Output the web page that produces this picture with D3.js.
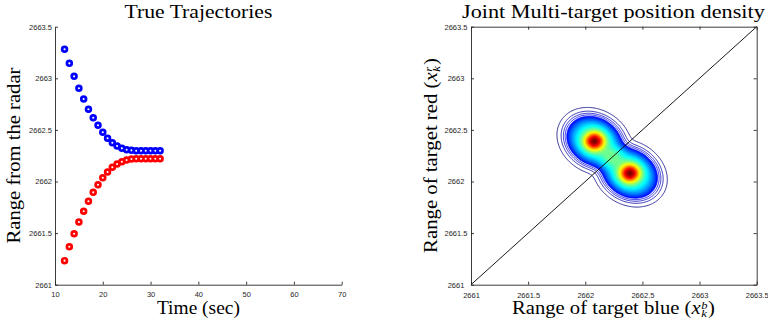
<!DOCTYPE html>
<html><head><meta charset="utf-8">
<script src="https://cdn.jsdelivr.net/npm/d3@7"></script>
<style>
html,body{margin:0;padding:0;background:#fff;}
svg{display:block;}
</style></head>
<body>
<svg id="chart" width="768" height="324"></svg>
<script>
// ---------------- DATA ----------------
const times = [12,13,14,15,16,17,18,19,20,21,22,23,24,25,26,27,28,29,30,31,32];
const blueRange = [2663.281,2663.145,2663.019,2662.903,2662.800,2662.700,2662.618,2662.545,2662.477,2662.419,2662.376,2662.344,2662.322,2662.308,2662.302,2662.298,2662.298,2662.298,2662.298,2662.298,2662.298];
const redRange  = [2661.233,2661.368,2661.494,2661.608,2661.711,2661.808,2661.895,2661.969,2662.037,2662.092,2662.138,2662.170,2662.192,2662.208,2662.218,2662.221,2662.221,2662.221,2662.221,2662.221,2662.221];
const timeTicks = [10,20,30,40,50,60,70];
const rangeTicks = [2661,2661.5,2662,2662.5,2663,2663.5];
// joint density: two lobes (blue range, red range)
const lobeBlue = [2662.08, 2662.39];
const lobeRed  = [2662.39, 2662.08];
const plateauWeight = [0.42, 0.42];
const plateauAlong  = [0.26, 0.26];
const plateauPerp   = [0.215, 0.215];
const plateauPower  = [2.0, 2.0];
const peakWeight = [0.58, 0.58];
const peakSigma  = [0.06, 0.06];
const diagonal = [2661, 2663.5];

// ---------------- LAYOUT ----------------
const svg = d3.select("#chart");
const axisColor = "#262626";
const L = {x0:55, x1:341.7, y0:284.7, y1:26.7};
const R = {x0:471, x1:756.7, y0:284.7, y1:26.7};

const xT = d3.scaleLinear().domain([10,70]).range([L.x0,L.x1]);
const yT = d3.scaleLinear().domain([2661,2663.5]).range([L.y0,L.y1]);
const xB = d3.scaleLinear().domain([2661,2663.5]).range([R.x0,R.x1]);
const yB = d3.scaleLinear().domain([2661,2663.5]).range([R.y0,R.y1]);

const fmt = d => String(d);

function styleAxis(g){
  g.selectAll("path,line").attr("stroke",axisColor).attr("stroke-width",0.9);
  g.selectAll("text").attr("fill",axisColor).attr("font-family","'Liberation Sans', Arial, sans-serif").attr("font-size","7.5px");
}

// ---- left axes (box off) ----
svg.append("g").attr("transform",`translate(0,${L.y0})`)
  .call(d3.axisBottom(xT).tickValues(timeTicks).tickFormat(fmt).tickSize(-3).tickSizeOuter(0).tickPadding(7))
  .call(styleAxis);
svg.append("g").attr("transform",`translate(${L.x0},0)`)
  .call(d3.axisLeft(yT).tickValues(rangeTicks).tickFormat(fmt).tickSize(-3).tickSizeOuter(0).tickPadding(3))
  .call(styleAxis);

// ---- markers ----
function markers(vals, color){
  svg.append("g").selectAll("circle").data(times.map((t,i)=>[t,vals[i]])).join("circle")
    .attr("cx",d=>xT(d[0])).attr("cy",d=>yT(d[1])).attr("r",2.4)
    .attr("fill","#fff").attr("stroke",color).attr("stroke-width",2.7);
}
markers(blueRange,"#0000ff");
markers(redRange,"#ff0000");

// ---- right plot: contours ----
const gx0 = 2661.5, gy0 = 2661.5, step = 0.008, n = 190, m = 190;
const values = new Array(n*m);
for (let j=0;j<m;j++){
  for (let i=0;i<n;i++){
    const x = gx0 + i*step, y = gy0 + j*step;
    let v = 0;
    for (let k=0;k<lobeBlue.length;k++){
      const dx = x-lobeBlue[k], dy = y-lobeRed[k];
      const a = (dx-dy)/Math.SQRT2, p = (dx+dy)/Math.SQRT2;
      const q = (a/plateauAlong[k])**2 + (p/plateauPerp[k])**2;
      v += plateauWeight[k]*Math.exp(-Math.pow(q, plateauPower[k]));
      v += peakWeight[k]*Math.exp(-0.5*(a*a+p*p)/(peakSigma[k]**2));
    }
    values[j*n+i] = v;
  }
}
const vmax = d3.max(values);
const nLevels = 30;
const levels = d3.range(nLevels).map(k => vmax*(0.012 + 0.97*k/(nLevels-1)));
function jet(t){
  const c = x => Math.max(0, Math.min(1, x));
  const r = c(1.5 - Math.abs(4*t-3)), g = c(1.5 - Math.abs(4*t-2)), b = c(1.5 - Math.abs(4*t-1));
  return d3.rgb(r*255,g*255,b*255).toString();
}
const contours = d3.contours().size([n,m]).thresholds(levels)(values);
const proj = d3.geoTransform({point(px,py){
  this.stream.point(xB(gx0+(px-0.5)*step), yB(gy0+(py-0.5)*step));
}});
const path = d3.geoPath(proj);
const cg = svg.append("g");
cg.selectAll("path.fill").data(contours.filter((d,i)=>i>=4)).join("path")
  .attr("class","fill").attr("d",path)
  .attr("fill",d=>jet(levels.indexOf(d.value)/(nLevels-1))).attr("stroke","none");
cg.selectAll("path.line").data(contours).join("path")
  .attr("class","line").attr("d",path).attr("fill","none")
  .attr("stroke",(d,i)=>jet(i/(nLevels-1))).attr("stroke-width",0.8);

// diagonal
svg.append("line").attr("x1",xB(diagonal[0])).attr("y1",yB(diagonal[0]))
  .attr("x2",xB(diagonal[1])).attr("y2",yB(diagonal[1]))
  .attr("stroke","#000").attr("stroke-width",0.9);

// ---- right axes (box on) ----
svg.append("g").attr("transform",`translate(0,${R.y0})`)
  .call(d3.axisBottom(xB).tickValues(rangeTicks).tickFormat(fmt).tickSize(-3).tickSizeOuter(0).tickPadding(7.5))
  .call(styleAxis);
svg.append("g").attr("transform",`translate(0,${R.y1})`)
  .call(d3.axisTop(xB).tickValues(rangeTicks).tickFormat("").tickSize(-3).tickSizeOuter(0))
  .call(styleAxis);
const yl = svg.append("g").attr("transform",`translate(${R.x0},0)`)
  .call(d3.axisLeft(yB).tickValues(rangeTicks).tickFormat(fmt).tickSize(-3).tickSizeOuter(0).tickPadding(3))
  .call(styleAxis);
yl.selectAll("text").attr("text-anchor","middle").attr("x",-15);
svg.append("g").attr("transform",`translate(${R.x1},0)`)
  .call(d3.axisRight(yB).tickValues(rangeTicks).tickFormat("").tickSize(-3).tickSizeOuter(0))
  .call(styleAxis);

// ---- serif labels ----
function serifLabel(cx, cy, rot, width, build){
  const g = svg.append("g").attr("transform",`translate(${cx},${cy}) rotate(${rot})`);
  const t = g.append("text").attr("text-anchor","middle")
    .attr("font-family","'Liberation Serif','Times New Roman',serif").attr("font-size","18px").attr("fill","#000");
  build(t);
  const w = t.node().getBBox().width;
  t.attr("transform",`scale(${width/w},1)`);
}
function plain(s){ return t => t.text(s); }
function withMath(s, sup){
  return t => {
    t.append("tspan").text(s + " (");
    t.append("tspan").attr("font-style","italic").text("x");
    t.append("tspan").attr("font-style","italic").attr("font-size","11px").attr("dy",-5).attr("dx",0.5).text(sup);
    t.append("tspan").attr("font-style","italic").attr("font-size","11px").attr("dx",sup==="b"?-5.5:-4.3).attr("dy",8).text("k");
    t.append("tspan").attr("dy",-3).attr("dx",1).text(")");
  };
}
serifLabel(198.4, 313.8, 0, 83, plain("Time (sec)"));
serifLabel(613.4, 314.3, 0, 203, withMath("Range of target blue","b"));
serifLabel(198.4, 17.5, 0, 148, plain("True Trajectories"));
serifLabel(613.4, 17.5, 0, 303, plain("Joint Multi-target position density"));
serifLabel(19.5, 155.5, -90, 176, plain("Range from the radar"));
serifLabel(436.5, 155.5, -90, 195, withMath("Range of target red","r"));
</script>
</body></html>
